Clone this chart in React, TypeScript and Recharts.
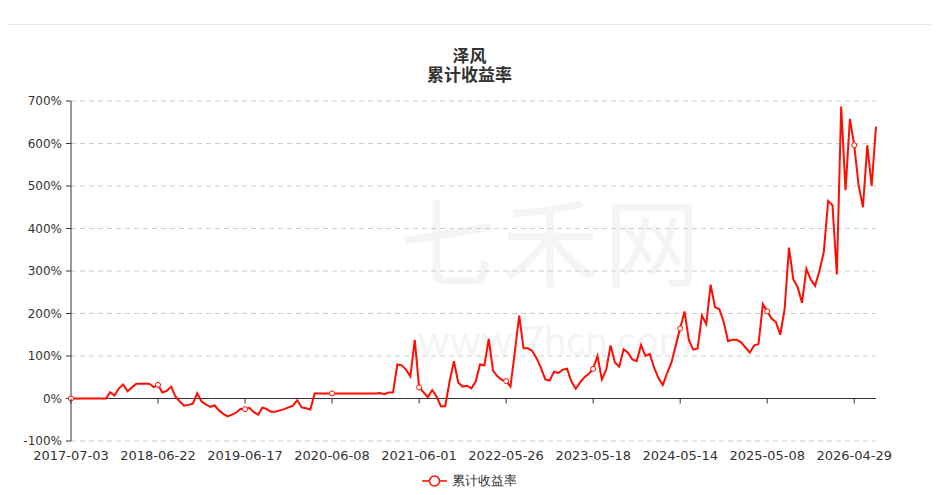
import { LineChart, Line, XAxis, YAxis, CartesianGrid, Legend, ReferenceLine } from 'recharts';

// one tick label every K points
const K = 20;

const tickLabels = [
  '2017-07-03', '2018-06-22', '2019-06-17', '2020-06-08', '2021-06-01',
  '2022-05-26', '2023-05-18', '2024-05-14', '2025-05-08', '2026-04-29',
];

// 累计收益率 (%)
const cumReturn = [
  0, 0, 0, 0, 0, 0, 0, 0, 0,
  15, 7, 24, 33, 17, 26, 35, 35, 35, 35, 27,
  32, 14, 18, 28, 5, -7, -17, -15, -12, 12,
  -7, -14, -20, -16, -28, -36, -42, -38, -33, -24,
  -25, -22, -32, -38, -21, -25, -31, -31, -28, -25,
  -21, -17, -4, -21, -23, -26,
  12, 12, 12, 12, 12, 12, 12, 12, 12, 12, 12, 12, 12, 12, 12,
  13, 10, 14, 14,
  80, 78, 68, 52, 138,
  26, 15, 3, 20, 5, -18, -18, 40, 88, 37,
  28, 30, 24, 40, 80, 78, 140, 65, 52, 44,
  41, 28, 110, 195, 118, 118, 112, 95, 72, 45,
  42, 63, 60, 68, 70, 40, 23, 38, 50, 58,
  70, 100, 45, 68, 125, 85, 75, 116, 108, 92,
  88, 126, 100, 105, 73, 48, 32, 60, 85, 126,
  165, 205, 137, 115, 118, 195, 175, 268, 215, 210,
  180, 135, 138, 138, 132, 120, 108, 125, 128, 222,
  205, 188, 180, 150, 210, 355, 280, 262, 225, 305,
  280, 265, 300, 345, 465, 455, 292, 687, 490, 658,
  596, 502, 450, 596, 500, 640,
];

const yTicks = [-100, 0, 100, 200, 300, 400, 500, 600, 700];

const data = cumReturn.map((v, i) => ({ idx: i, value: v }));
const xTicks = tickLabels.map((_, i) => i * K);

const RED = '#ff0d00';
const PLOT_TOP = 101;
const PLOT_H = 340;
const ZERO_Y = PLOT_TOP + (PLOT_H * (700 - 0)) / 800;

const XTick = (props: any) => {
  const { x, y, payload } = props;
  return (
    <g>
      <line x1={x} x2={x} y1={ZERO_Y} y2={ZERO_Y + 5} stroke="#333" />
      <text x={x} y={y} dy={11} textAnchor="middle" fontSize={13} fill="#333">
        {tickLabels[payload.value / K]}
      </text>
    </g>
  );
};

const renderDot = (props: any) => {
  const { cx, cy, index } = props;
  if (index % K !== 0) return <g key={index} />;
  return <circle key={index} cx={cx} cy={cy} r={2.5} fill="#fff" stroke={RED} strokeWidth={1} />;
};

const LegendBox = () => (
  <div style={{ display: 'flex', justifyContent: 'center', alignItems: 'center', height: 20, fontSize: 13, lineHeight: '14px', color: '#333' }}>
    <svg width={25} height={14}>
      <line x1={0} y1={7} x2={25} y2={7} stroke={RED} strokeWidth={1.5} />
      <circle cx={12.5} cy={7} r={5} fill="#fff" stroke={RED} strokeWidth={1.5} />
    </svg>
    <span style={{ marginLeft: 5 }}>累计收益率</span>
  </div>
);

export default function App() {
  return (
    <div style={{ position: 'relative', width: 939, height: 495, margin: -8, fontFamily: '"DejaVu Sans", sans-serif', background: '#fff', overflow: 'hidden' }}>
      <div style={{ position: 'absolute', top: 24, left: 0, width: 939, height: 1, background: '#e8e8e8' }} />
      <div style={{ position: 'absolute', left: 400, top: 190, fontSize: 96, lineHeight: '96px', color: '#f4f4f4', fontFamily: '"Noto Sans CJK SC"', letterSpacing: 6 }}>七禾网</div>
      <div style={{ position: 'absolute', left: 418, top: 320, fontSize: 40, lineHeight: '40px', color: '#f4f4f4', fontFamily: 'Lato' }}>www.7hcn.com</div>
      <div style={{ position: 'absolute', top: 45, left: 0, width: 939, textAlign: 'center', fontSize: 17, lineHeight: '19px', fontWeight: 'bold', color: '#333', fontFamily: '"Noto Sans CJK SC"' }}>
        <div>泽风</div>
        <div>累计收益率</div>
      </div>
      <div style={{ position: 'absolute', top: 0, left: 0 }}>
        <LineChart width={939} height={495} data={data} margin={{ top: PLOT_TOP, right: 63, bottom: 4, left: 11 }}>
          <CartesianGrid vertical={false} stroke="#ccc" strokeDasharray="5 4" />
          <XAxis
            dataKey="idx"
            type="number"
            domain={[0, cumReturn.length - 1]}
            ticks={xTicks}
            axisLine={false}
            tickLine={false}
            height={30}
            tick={<XTick />}
            interval={0}
          />
          <YAxis
            domain={[-100, 700]}
            ticks={yTicks}
            tickFormatter={(v) => `${v}%`}
            width={60}
            tickSize={5}
            tickMargin={4}
            tick={{ fontSize: 12, fill: '#333' }}
            axisLine={{ stroke: '#333' }}
            tickLine={{ stroke: '#333' }}
          />
          <ReferenceLine y={0} stroke="#333" />
          <Legend content={<LegendBox />} wrapperStyle={{ left: 0, width: 939 }} />
          <Line
            type="linear"
            dataKey="value"
            stroke={RED}
            strokeWidth={2}
            dot={renderDot}
            activeDot={false}
            isAnimationActive={false}
          />
        </LineChart>
      </div>
    </div>
  );
}
